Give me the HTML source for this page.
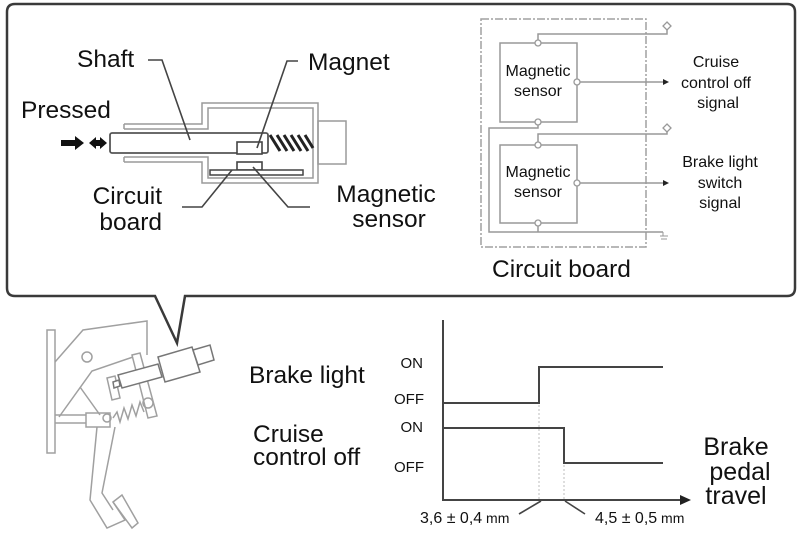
<!DOCTYPE html>
<html><head><meta charset="utf-8"><style>
html,body{margin:0;padding:0;background:#fff;}
svg{display:block;}
text{font-family:"Liberation Sans",Arial,sans-serif;fill:#111;}
</style></head><body>
<svg width="802" height="551" viewBox="0 0 802 551" xmlns="http://www.w3.org/2000/svg">
<!-- callout -->
<path d="M15 4 H787 Q795 4 795 12 V288 Q795 296 787 296 H185 L177 343 L155 296 H15 Q7 296 7 288 V12 Q7 4 15 4 Z" fill="none" stroke="#3a3a3a" stroke-width="2.5"/>

<!-- switch cross-section -->
<g fill="none" stroke="#9a9a9a" stroke-width="1.5">
<path d="M124 124 H202 V103 H318 V183 H202 V162 H124"/>
<path d="M124 129 H208 V108 H313 V178 H208 V157 H124"/>
<path d="M124 124 V129 M124 157 V162"/>
<rect x="318" y="121" width="28" height="43"/>
</g>
<rect x="110" y="133" width="158" height="20" rx="2" fill="#fff" stroke="#555" stroke-width="1.8"/>
<rect x="237" y="142" width="25" height="12" fill="#fff" stroke="#444" stroke-width="1.6"/>
<rect x="237" y="162" width="25" height="8" fill="#fff" stroke="#444" stroke-width="1.6"/>
<rect x="210" y="170" width="93" height="5" fill="#fff" stroke="#444" stroke-width="1.5"/>
<g stroke="#222" stroke-width="3">
<line x1="270" y1="135" x2="280" y2="151"/>
<line x1="277" y1="135" x2="287" y2="151"/>
<line x1="284" y1="135" x2="294" y2="151"/>
<line x1="291" y1="135" x2="301" y2="151"/>
<line x1="298" y1="135" x2="308" y2="151"/>
<line x1="305" y1="135" x2="313" y2="148"/>
</g>
<!-- arrows -->
<path d="M61 140 H75 V136 L84 143 L75 150 V146 H61 Z" fill="#111"/>
<path d="M89 143 L96 137 V140 H100 V137 L107 143 L100 149 V146 H96 V149 Z" fill="#111"/>
<!-- leaders -->
<g fill="none" stroke="#444" stroke-width="1.6">
<path d="M148 60 H162 L190 140"/>
<path d="M298 61 H287 L257 148"/>
<path d="M182 207 H202 L232 170"/>
<path d="M310 207 H288 L253 167"/>
</g>
<text x="77" y="67" font-size="24.5">Shaft</text>
<text x="308" y="70" font-size="24.5">Magnet</text>
<text x="21" y="118" font-size="24.5">Pressed</text>
<text x="162" y="204" font-size="24.5" text-anchor="end">Circuit</text>
<text x="162" y="230" font-size="24.5" text-anchor="end">board</text>
<text x="386" y="202" font-size="24.5" text-anchor="middle">Magnetic</text>
<text x="389" y="227" font-size="24.5" text-anchor="middle">sensor</text>

<!-- circuit diagram -->
<rect x="481" y="19" width="165" height="228" fill="none" stroke="#a0a0a0" stroke-width="1.5" stroke-dasharray="8 2 2 2"/>
<g fill="none" stroke="#999" stroke-width="1.5">
<rect x="500" y="43" width="77" height="79"/>
<rect x="500" y="145" width="77" height="78"/>
<path d="M538 40 V34 H667 V29"/>
<path d="M538 142 V134 H667 V131"/>
<path d="M538 125 V128 H489 V232 H663"/>
<path d="M538 226 V232"/>
<path d="M580 82 H664"/>
<path d="M580 183 H664"/>
</g>
<g fill="#fff" stroke="#999" stroke-width="1.3">
<circle cx="538" cy="43" r="3"/>
<circle cx="538" cy="122" r="3"/>
<circle cx="577" cy="82" r="3"/>
<circle cx="538" cy="145" r="3"/>
<circle cx="538" cy="223" r="3"/>
<circle cx="577" cy="183" r="3"/>
<path d="M667 22 L671 26 L667 30 L663 26 Z"/>
<path d="M667 124 L671 128 L667 132 L663 128 Z"/>
</g>
<path d="M663 82 L669 82 L663 79 Z M663 82 L669 82 L663 85 Z" fill="#222"/>
<path d="M663 183 L669 183 L663 180 Z M663 183 L669 183 L663 186 Z" fill="#222"/>
<g stroke="#999" stroke-width="1"><line x1="660" y1="236" x2="668" y2="236"/><line x1="661" y1="239" x2="667" y2="239"/><line x1="663" y1="232" x2="663" y2="236"/></g>
<g font-size="16" text-anchor="middle">
<text x="538" y="76">Magnetic</text>
<text x="538" y="96">sensor</text>
<text x="538" y="177">Magnetic</text>
<text x="538" y="197">sensor</text>
<text x="716" y="67">Cruise</text>
<text x="716" y="88">control off</text>
<text x="718" y="108">signal</text>
<text x="720" y="167">Brake light</text>
<text x="720" y="188">switch</text>
<text x="720" y="208">signal</text>
</g>
<text x="492" y="277" font-size="24.5">Circuit board</text>

<!-- pedal drawing -->
<g fill="none" stroke="#a0a0a0" stroke-width="1.5">
<rect x="47" y="330" width="8" height="123"/>
<path d="M55 362 L83 330 L147 321 V355"/>
<circle cx="87" cy="357" r="5"/>
<path d="M59 417 L92 371 L133 357"/>
<path d="M80 387 L100 415"/>
<path d="M55 415 H86 M55 423 H86"/>
<rect x="86" y="413" width="24" height="14"/>
<circle cx="107" cy="418" r="4"/>
<path d="M97 427 L90 500 L107 528 L125 520 L113 502 M115 427 L102 493 L113 510"/>
<path d="M113 502 L122 495 L138 523 L132 528 Z"/>
<path d="M113 418 L117 412 L120 422 L124 408 L128 419 L132 405 L136 416 L140 402 L144 412"/>
<path d="M132 355 L140 353 L157 416 L148 418 Z"/>
<circle cx="148" cy="403" r="5"/>
<path d="M107 378 L115 376 L120 398 L112 400 Z"/>
</g>
<g fill="#fff" stroke="#777" stroke-width="1.5">
<path d="M118 375 L158 364 L162 377 L122 388 Z"/>
<path d="M158 357 L192 347 L200 372 L165 382 Z"/>
<path d="M193 350 L210 345 L214 360 L198 365 Z"/>
<path d="M113 382 L119 380 L120 386 L114 388 Z"/>
</g>

<!-- labels lower -->
<text x="249" y="383" font-size="24.5">Brake light</text>
<text x="253" y="442" font-size="24.5">Cruise</text>
<text x="253" y="465" font-size="24.5">control off</text>
<g font-size="15" text-anchor="end">
<text x="423" y="368">ON</text>
<text x="424" y="404">OFF</text>
<text x="423" y="432">ON</text>
<text x="424" y="472">OFF</text>
</g>

<!-- chart -->
<g fill="none" stroke="#c8c8c8" stroke-width="1.2" stroke-dasharray="2 2">
<line x1="539" y1="405" x2="539" y2="499"/>
<line x1="564" y1="465" x2="564" y2="499"/>
</g>
<g fill="none" stroke="#444" stroke-width="2">
<path d="M443 320 V500 H682"/>
<path d="M443 403 H539 V367 H663"/>
<path d="M443 428 H564 V463 H663"/>
</g>
<path d="M680 495 L691 500 L680 505 Z" fill="#222"/>
<g stroke="#444" stroke-width="1.6">
<line x1="541" y1="501" x2="519" y2="514"/>
<line x1="565" y1="501" x2="585" y2="514"/>
</g>
<text x="420" y="523" font-size="16">3,6 ± 0,4<tspan font-size="14"> mm</tspan></text>
<text x="595" y="523" font-size="16">4,5 ± 0,5<tspan font-size="14"> mm</tspan></text>
<g font-size="25" text-anchor="middle">
<text x="736" y="455">Brake</text>
<text x="740" y="480">pedal</text>
<text x="736" y="504">travel</text>
</g>
</svg>
</body></html>
